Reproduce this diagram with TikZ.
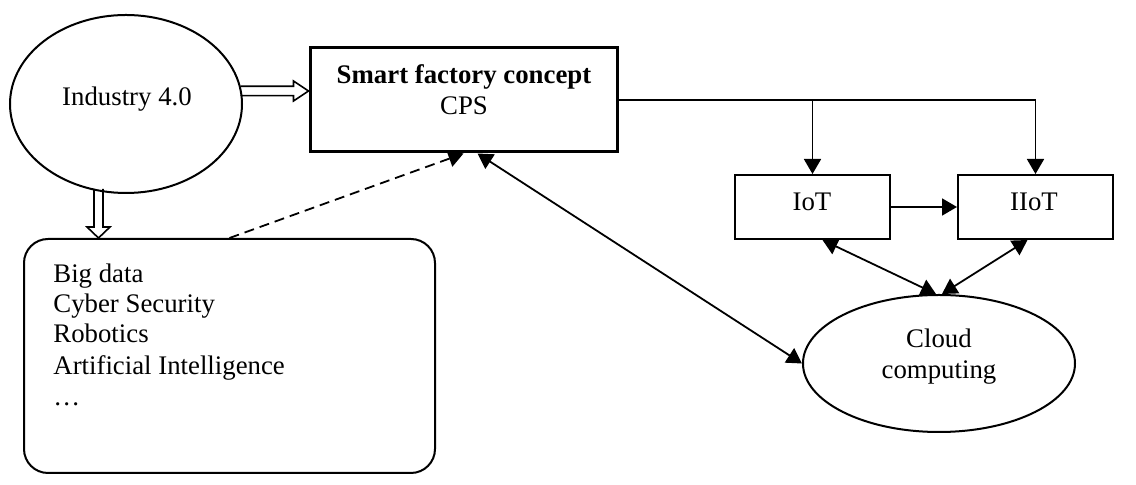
\documentclass[tikz,border=0pt]{standalone}
\usepackage{fontspec}
\setmainfont{Liberation Serif}
\usetikzlibrary{shapes.geometric,arrows.meta,calc}
\begin{document}
\begin{tikzpicture}[x=0.5pt,y=-0.5pt,
  every node/.style={font=\fontsize{13.4pt}{15.5pt}\selectfont},
  shapeline/.style={draw, line width=1pt, inner sep=0pt},
  conn/.style={line width=0.9pt},
  tipend/.style={-{Triangle[length=7.5pt,width=8.5pt]}},
  bitip/.style={{Triangle[length=7.5pt,width=8.5pt]}-{Triangle[length=7.5pt,width=8.5pt]}},
  hollow/.style={draw, line width=0.8pt, line join=miter},
  txt/.style={inner sep=0pt, anchor=base}
]
\useasboundingbox (0,0) rectangle (1136,485);

% shapes
\node[shapeline, ellipse, minimum width=116pt, minimum height=89pt] (ind) at (126,104) {};
\node[draw, line width=1.5pt, inner sep=0pt, minimum width=153.5pt, minimum height=52pt] (sf) at (463.5,100) {};
\node[shapeline, minimum width=77.5pt, minimum height=32pt] (iot) at (812.5,207) {};
\node[shapeline, minimum width=77.5pt, minimum height=32pt] (iiot) at (1035.5,207) {};
\node[shapeline, ellipse, minimum width=136pt, minimum height=68.5pt] (cloud) at (939,363.5) {};
\node[shapeline, rounded corners=12pt, minimum width=205.5pt, minimum height=117pt] (box) at (229.5,356) {};

% texts
\node[txt] (indT) at (127,106) {Industry 4.0};
\node[txt] (sfT1) at (464,84) {\textbf{Smart factory concept}};
\node[txt] (sfT2) at (464,115) {CPS};
\node[txt] (iotT) at (812,211) {IoT};
\node[txt] (iiotT) at (1034,211) {IIoT};
\node[txt] (cloudT1) at (939,348) {Cloud};
\node[txt] (cloudT2) at (939,379) {computing};
\foreach \t/\yy [count=\i] in {Big data/283, Cyber Security/313, Robotics/343, Artificial Intelligence/375, …/406}
  \node[inner sep=0pt, anchor=base west] (item\i) at (53,\yy) {\t};

% hollow block arrows
\coordinate (tip1) at ($(sf.west)+(0,-9)$);
\draw[hollow] ($(tip1)+(-68,-4.7)$) -- ++(53,0) -- ++(0,-5.3) -- (tip1) -- ++(-15,10) -- ++(0,-5.3) -- ++(-53,0);
\coordinate (tip2) at ($(box.north west)+(75.5,0)$);
\draw[hollow] ($(tip2)+(-4.5,-49)$) -- ++(0,38) -- ++(-7,0) -- (tip2) -- ++(11.5,-11) -- ++(-7,0) -- ++(0,-38);

% connectors
\draw[conn, tipend] (sf.east) -| (iiot.north);
\draw[conn, tipend] (iot.north |- sf.east) -- (iot.north);
\draw[conn, tipend] (iot.east) -- (iiot.west);
\draw[conn, bitip] ([xshift=5pt]iot.south) -- ([xshift=-1.5pt]cloud.north);
\draw[conn, bitip] ([xshift=-4pt]iiot.south) -- ([xshift=1.5pt]cloud.north);
\draw[conn, bitip] ([xshift=7pt]sf.south) -- (cloud.west);
\draw[conn, dash pattern=on 5pt off 3pt, tipend] (box.north) -- (sf.south);
\end{tikzpicture}
\end{document}
